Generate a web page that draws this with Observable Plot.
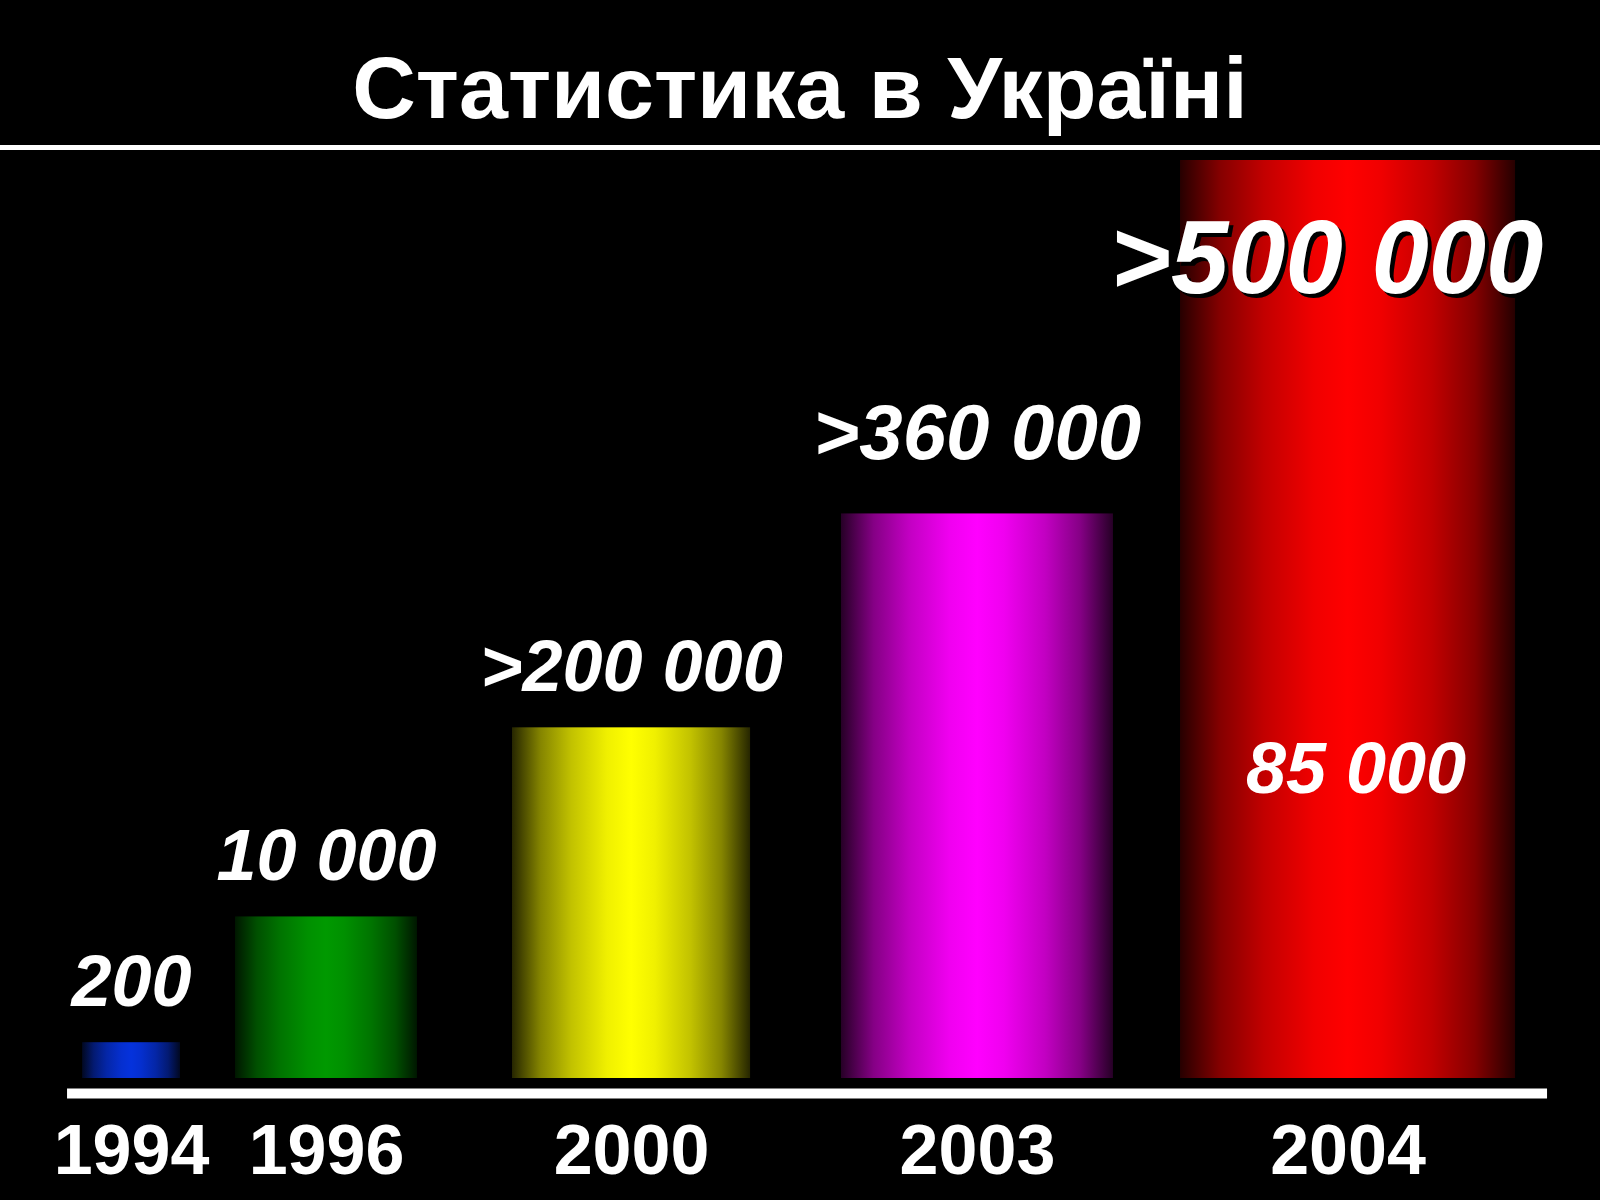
<!DOCTYPE html>
<html>
<head>
<meta charset="utf-8">
<script src="https://cdn.jsdelivr.net/npm/d3@7"></script>
<script src="https://cdn.jsdelivr.net/npm/@observablehq/plot@0.6"></script>
<style>
  html, body { margin: 0; padding: 0; background: #000; overflow: hidden; }
  #title {
    box-sizing: border-box; height: 150px; padding-top: 44px;
    border-bottom: 5px solid #fff;
    font: bold 88px/88px "Liberation Sans", Arial, sans-serif;
    color: #fff; text-align: center; white-space: nowrap;
  }
</style>
</head>
<body>
<div id="title">Статистика в Україні</div>
<div id="chart"></div>
<script>
// ---- data ----
const years = ["1994", "1996", "2000", "2003", "2004"];
const valueLabels = ["200", "10 000", ">200 000", ">360 000", ">500 000"];
const innerLabels = ["", "", "", "", "85 000"];
// visual bar level as drawn on the slide (arbitrary units, 2004 = 1000)
const barLevel = [39, 176, 382, 615, 1000];
// horizontal span of each bar, in percent of slide width
const barFrom = [5.13, 14.69, 32.0, 52.56, 73.75];
const barTo = [11.25, 26.06, 46.88, 69.56, 94.69];
const barColor = ["#0532dc", "#009900", "#ffff00", "#ff00ff", "#ff0000"];

const rows = years.map((y, i) => ({
  year: y, value: valueLabels[i], inner: innerLabels[i],
  level: barLevel[i], from: barFrom[i], to: barTo[i], color: barColor[i], i
}));

const FONT = "Liberation Sans, Arial, Helvetica, sans-serif";

// gradient definitions: dark edges, bright centre
const gradStops = [[0, 0.15], [0.12, 0.52], [0.25, 0.76], [0.4, 0.94], [0.5, 1], [0.6, 0.94], [0.75, 0.76], [0.88, 0.52], [1, 0.15]];
function defsMark() {
  const defs = d3.create("svg:defs");
  rows.forEach(r => {
    const g = defs.append("linearGradient").attr("id", "bar-grad-" + r.i)
      .attr("x1", "0").attr("x2", "1").attr("y1", "0").attr("y2", "0");
    const interp = d3.interpolateRgb("#000", r.color);
    gradStops.forEach(([o, t]) => {
      g.append("stop").attr("offset", o).attr("stop-color", interp(t));
    });
  });
  return defs.node();
}

const mid = d => (d.from + d.to) / 2;
const txt = {fill: "#fff", fontFamily: FONT, fontWeight: "bold", lineAnchor: "bottom", textAnchor: "middle"};

const chart = Plot.plot({
  width: 1600,
  height: 1048,
  margin: 0,
  style: {background: "#000", color: "#fff", fontFamily: FONT},
  x: {domain: [0, 100], range: [0, 1600], axis: null},
  y: {domain: [0, 1000], range: [928, 10], axis: null},
  color: {type: "identity"},
  marks: [
    defsMark,
    Plot.rect(rows, {x1: "from", x2: "to", y1: 0, y2: "level", fill: d => `url(#bar-grad-${d.i})`}),
    Plot.ruleY([0], {x1: 4.19, x2: 96.69, stroke: "#fff", strokeWidth: 10, dy: 15}),
    // year labels
    Plot.text(rows, {...txt, x: mid, y: 0, text: "year", dy: 95, fontSize: 70}),
    // value labels above bars
    Plot.text(rows.filter(d => d.i < 3), {...txt, x: mid, y: "level", text: "value", dy: -37, fontSize: 72, fontStyle: "italic"}),
    Plot.text(rows.filter(d => d.i === 3), {...txt, x: mid, y: "level", text: "value", dy: -55, fontSize: 78, fontStyle: "italic"}),
    // 2004 big label (drop shadow added below)
    Plot.text(rows.filter(d => d.i === 4), {...txt, x: mid, y: "level", text: "value", dy: 132, dx: -21, fontSize: 103, fontStyle: "italic"}),
    // inner label
    Plot.text(rows.filter(d => d.inner), {...txt, x: mid, y: "level", text: "inner", dy: 632, dx: 8, fontSize: 72, fontStyle: "italic"})
  ]
});
d3.select(chart).selectAll("text")
  .filter(function() { return this.textContent === valueLabels[4]; })
  .style("filter", "drop-shadow(4px 4px 0px #000)");
document.getElementById("chart").appendChild(chart);
</script>
</body>
</html>
